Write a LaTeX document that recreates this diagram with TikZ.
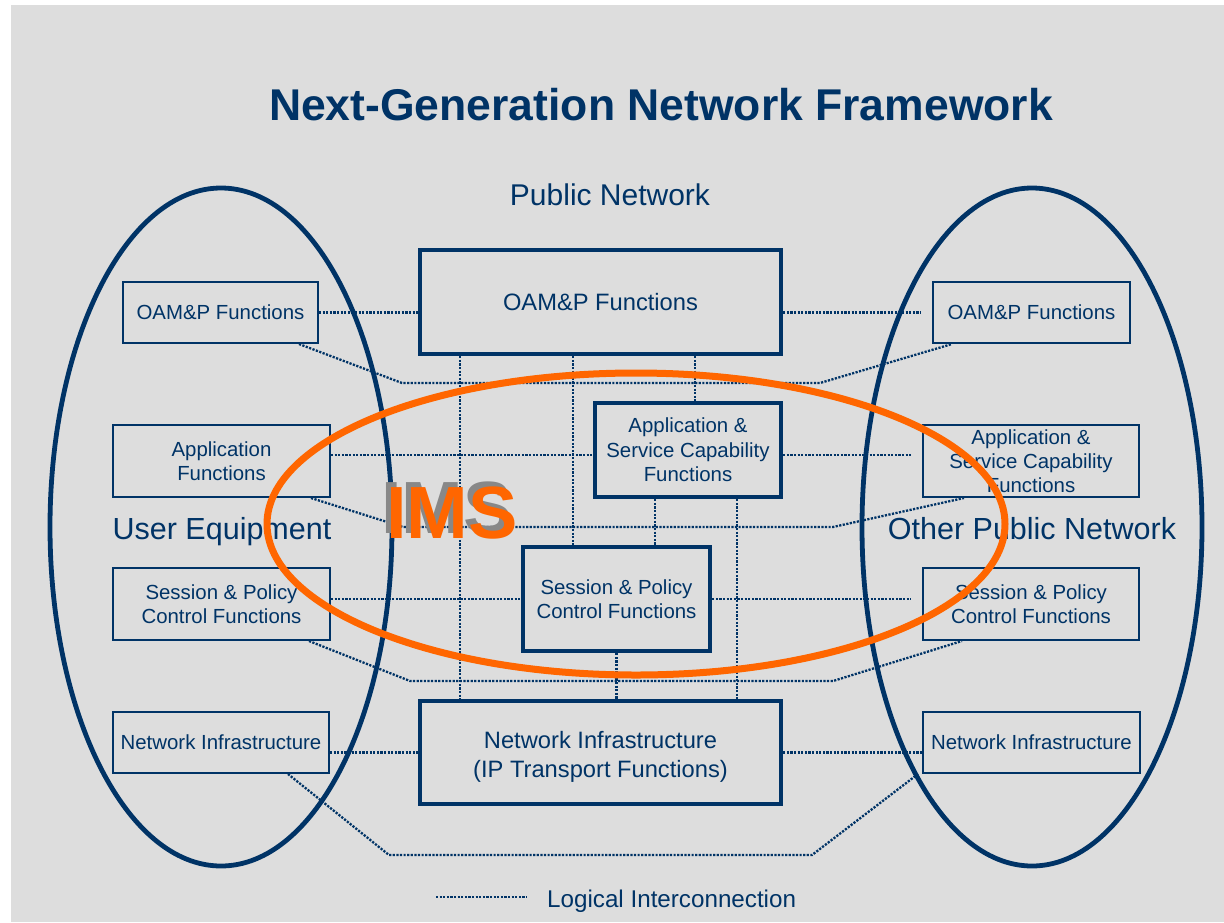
\documentclass[tikz,border=0pt]{standalone}
\usepackage{fontspec}
\setmainfont{Liberation Sans}
\definecolor{navy}{RGB}{0,51,102}
\definecolor{bggray}{RGB}{221,221,221}
\definecolor{imsorange}{RGB}{255,102,0}
\definecolor{shadowgray}{RGB}{136,136,136}
\newcommand{\fsz}[2]{\fontsize{#1}{#2}\selectfont}
\begin{document}
\begin{tikzpicture}[x=1pt,y=-1pt,
  bigbox/.style={draw=navy, line width=4.5pt, text=navy, inner sep=0pt, align=center, font=\fsz{23.7}{29}},
  midbox/.style={bigbox, font=\fsz{20.4}{24.4}},
  sidebox/.style={draw=navy, line width=2pt, text=navy, inner sep=0pt, align=center, font=\fsz{20.4}{23.8}},
  dotline/.style={draw=navy, line width=2.3pt, dash pattern=on 2.2pt off 1.4pt},
  txt/.style={text=navy, inner sep=0pt, anchor=base},
  ring/.style={draw=navy, line width=4.8pt},
]
\fill[white] (0,0) rectangle (1224,922);
\fill[bggray] (11,5) rectangle (1224,922);
\useasboundingbox (0,0) rectangle (1224,922);

% central boxes
\node[bigbox, minimum width=361pt, minimum height=104pt] (cO) at (600.5,302) {OAM\&P Functions};
\node[midbox, minimum width=186pt, minimum height=94pt] (cA) at (688,450) {Application \&\\Service Capability\\Functions};
\node[midbox, minimum width=187pt, minimum height=104pt] (cS) at (616.5,599) {Session \& Policy\\Control Functions};
\node[bigbox, minimum width=361pt, minimum height=103pt] (cN) at (600.5,752.5) {\rule{0pt}{25pt}Network Infrastructure\\(IP Transport Functions)};

% side boxes
\node[sidebox, minimum width=195pt, minimum height=61pt] (lO) at (220.5,312.5) {OAM\&P Functions};
\node[sidebox, minimum width=217pt, minimum height=72pt] (lA) at (221.5,461) {Application\\Functions};
\node[sidebox, minimum width=217pt, minimum height=72pt] (lS) at (221.5,604) {Session \& Policy\\Control Functions};
\node[sidebox, minimum width=216pt, minimum height=61pt] (lN) at (221,742.5) {Network Infrastructure};
\node[sidebox, minimum width=197pt, minimum height=61pt] (rO) at (1031.5,312.5) {OAM\&P Functions};
\node[sidebox, minimum width=216pt, minimum height=72pt] (rA) at (1031,461) {Application \&\\Service Capability\\Functions};
\node[sidebox, minimum width=216pt, minimum height=72pt] (rS) at (1031,604) {Session \& Policy\\Control Functions};
\node[sidebox, minimum width=217pt, minimum height=61pt] (rN) at (1031.5,742.5) {Network Infrastructure};

% horizontal logical interconnections
\draw[dotline] (lO.east) -- (lO.east -| cO.west);
\draw[dotline] (cO.east |- rO.west) -- ([xshift=-11pt]rO.west);
\coordinate (aL) at ([yshift=6pt]lA.east);
\draw[dotline] (aL) -- (aL -| cA.west);
\coordinate (aR) at ([xshift=-11pt,yshift=6pt]rA.west);
\draw[dotline] (aR -| cA.east) -- (aR);
\coordinate (sL) at ([yshift=5pt]lS.east);
\draw[dotline] (sL) -- (cS.west);
\coordinate (sR) at ([xshift=-11pt,yshift=5pt]rS.west);
\draw[dotline] (cS.east) -- (sR);
\draw[dotline] (lN.east |- cN.west) -- (cN.west);
\draw[dotline] (cN.east) -- (cN.east -| rN.west);

% bus lines between the two outer networks
\coordinate (o1) at (402,383); \coordinate (o2) at (820,383);
\draw[dotline] ([xshift=-20pt]lO.south east) -- (o1) -- (o2) -- ([xshift=20pt]rO.south west);
\coordinate (a1) at (403,527); \coordinate (a2) at (833,527);
\draw[dotline] ([xshift=-20pt]lA.south east) -- (a1) -- (a2) -- ([xshift=42pt]rA.south west);
\coordinate (s1) at (410,681); \coordinate (s2) at (833,681);
\draw[dotline] ([xshift=-22pt]lS.south east) -- (s1) -- (s2) -- ([xshift=40pt]rS.south west);
\coordinate (n1) at (389,855); \coordinate (n2) at (812,855);
\draw[dotline] ([xshift=-42pt]lN.south east) -- (n1) -- (n2) -- ([xshift=-4pt]rN.south west);

% vertical interconnections
\coordinate (v1) at ([xshift=42pt]cO.south west);
\draw[dotline] (v1) -- (v1 |- cN.north);
\coordinate (v2) at ([xshift=155pt]cO.south west);
\draw[dotline] (v2) -- (v2 |- cS.north);
\coordinate (v3) at ([xshift=102pt]cA.north west);
\draw[dotline] (v3 |- cO.south) -- (v3);
\coordinate (v4) at ([xshift=62pt]cA.south west);
\draw[dotline] (v4) -- (v4 |- cS.north);
\coordinate (v5) at ([xshift=144pt]cA.south west);
\draw[dotline] (v5) -- (v5 |- cN.north);
\draw[dotline] (cS.south) -- (cS.south |- cN.north);

% outer networks
\draw[ring] (221,527) ellipse [x radius=171pt, y radius=339pt];
\draw[ring] (1032,527) ellipse [x radius=170pt, y radius=339pt];

% texts
\node[txt, font=\bfseries\fsz{44.5}{50}] (title) at (661,120) {Next-Generation Network Framework};
\node[txt, font=\fsz{30}{36}] (pub) at (610,205) {Public Network};
\node[txt, font=\fsz{30.5}{36}] (ue) at (222,539) {User Equipment};
\node[txt, font=\fsz{30.5}{36}] (opn) at (1032,539) {Other Public Network};
\coordinate (lg1) at (436,897); \coordinate (lg2) at (527,897);
\draw[dotline] (lg1) -- (lg2);
\node[txt, font=\fsz{24.2}{30}, anchor=base west] (leg) at (547,907) {Logical Interconnection};

% IMS
\draw[draw=imsorange, line width=7pt] (636,524) ellipse [x radius=369pt, y radius=151pt];
\node[txt, text=shadowgray, font=\bfseries\fsz{74}{80}] (imsS) at (447,533) {IMS};
\node[txt, text=imsorange, font=\bfseries\fsz{74}{80}] (ims) at (452,538) {IMS};
\end{tikzpicture}
\end{document}
